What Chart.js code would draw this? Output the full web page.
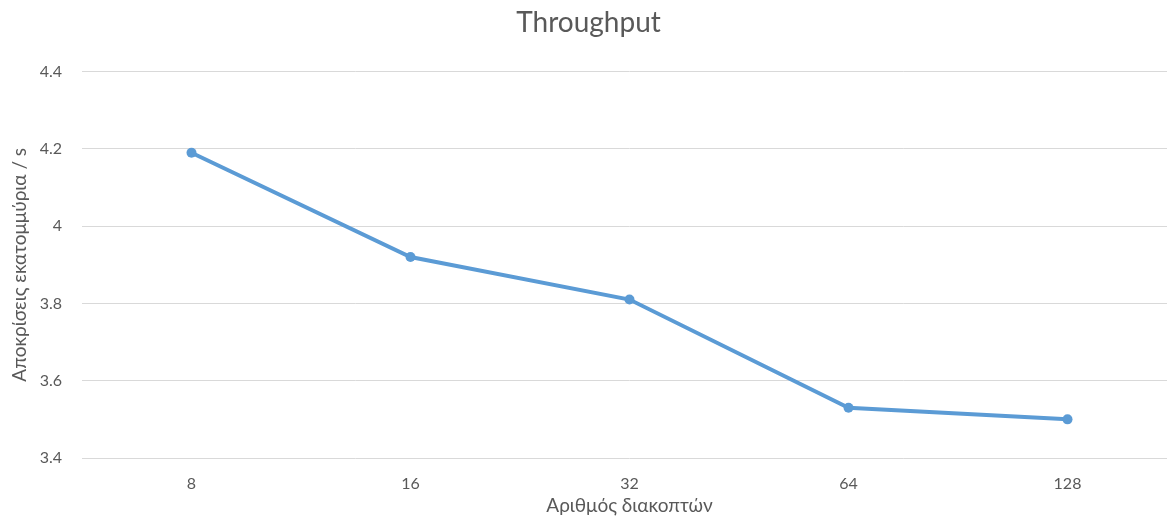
<!DOCTYPE html>
<html>
<head>
<meta charset="utf-8">
<script src="https://cdn.jsdelivr.net/npm/chart.js@4"></script>
<style>
html,body{margin:0;padding:0;background:#fff;overflow:hidden;}
#c{display:block;}
</style>
</head>
<body>
<canvas id="c" width="1186" height="517"></canvas>
<script>
const categories = ['8', '16', '32', '64', '128'];
const throughput = [4.19, 3.92, 3.81, 3.53, 3.50];
const yTickValues = [3.4, 3.6, 3.8, 4.0, 4.2, 4.4];
const yTickLabels = ['3.4', '3.6', '3.8', '4', '4.2', '4.4'];
const chartTitle = 'Throughput';
const xTitle = 'Αριθμός διακοπτών';
const yTitle = 'Αποκρίσεις εκατομμύρια / s';

const FONT = 'Lato, "Open Sans", sans-serif';
const GREY = '#595959';

new Chart(document.getElementById('c'), {
  type: 'line',
  data: {
    labels: categories,
    datasets: [{
      data: throughput,
      borderColor: '#5B9BD5',
      backgroundColor: '#5B9BD5',
      borderWidth: 4,
      pointRadius: 5,
      pointBorderWidth: 0,
      tension: 0,
      fill: false
    }]
  },
  options: {
    responsive: false,
    animation: false,
    devicePixelRatio: 1,
    layout: { padding: { top: 0, left: 0, right: 9, bottom: 0 } },
    plugins: {
      legend: { display: false },
      tooltip: { enabled: false },
      title: {
        display: true,
        text: chartTitle,
        color: GREY,
        font: { family: FONT, size: 28, weight: 'normal' },
        padding: { top: 6, bottom: 32 }
      }
    },
    scales: {
      x: {
        offset: true,
        grid: { display: false, drawTicks: false },
        border: { display: false },
        ticks: { color: GREY, font: { family: FONT, size: 16 }, padding: 16 },
        title: {
          display: true, text: xTitle, color: GREY,
          font: { family: FONT, size: 19 }, padding: { top: 0, bottom: 0 }
        },
        afterFit: (s) => { s.height = 59; }
      },
      y: {
        min: 3.4, max: 4.4,
        afterBuildTicks: (s) => { s.ticks = yTickValues.map(v => ({ value: v })); },
        grid: { color: '#D9D9D9', lineWidth: 1, drawTicks: false },
        border: { display: false },
        ticks: {
          color: GREY, font: { family: FONT, size: 16 }, padding: 20,
          callback: (v) => { const i = yTickValues.findIndex(t => Math.abs(t - v) < 1e-6); return i >= 0 ? yTickLabels[i] : ''; }
        },
        title: {
          display: true, text: yTitle, color: GREY,
          font: { family: FONT, size: 19 }, padding: { top: 8, bottom: 0 }
        },
        afterFit: (s) => { s.width = 82; }
      }
    }
  }
});
</script>
</body>
</html>
